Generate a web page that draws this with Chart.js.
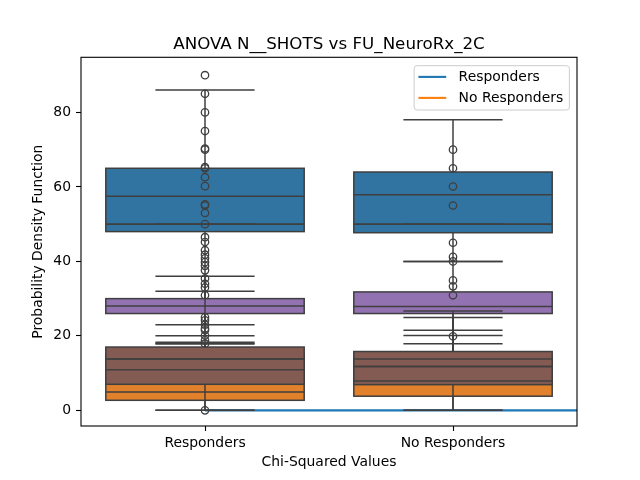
<!DOCTYPE html>
<html>
<head>
<meta charset="utf-8">
<script src="https://cdn.jsdelivr.net/npm/chart.js@4.4.1/dist/chart.umd.min.js"></script>
<style>
  html, body { margin: 0; padding: 0; background: #ffffff; }
  #wrap { width: 640px; height: 480px; }
</style>
</head>
<body>
<div id="wrap"><canvas id="c" width="640" height="480"></canvas></div>
<script>
// ---------- data ----------
const chartTitle = 'ANOVA N__SHOTS vs FU_NeuroRx_2C';
const categories = ['Responders', 'No Responders'];
const xTickValues = [0, 1];
const yTickValues = [0, 20, 40, 60, 80];

// legend line series (density lines, all ~0)
const lineX = [0, 1, 2];
const respondersLine = [0, 0, 0];
const noRespondersLine = [0, 0, 0];

// box series in drawing order; each entry is [Responders, No Responders]
const whiskerLow   = [[23, 40],   [0, 0],     [7, 7],      [50, 50], [8, 8],      [20, 17.9], [0, 0]];
const quartile1    = [[48, 47.7], [2.7, 3.8], [8, 9],      [50, 50], [8, 8],      [26, 26],   [7, 6.9]];
const medianValues = [[57.5, 57.9], [4.9, 7.9], [13.8, 11.8], [50, 50], [13.8, 11.8], [28, 27.9], [10.9, 13.8]];
const quartile3    = [[65, 64],   [12, 13],   [15, 14],    [50, 50], [15, 14],    [30, 31.8], [17, 15.8]];
const whiskerHigh  = [[86, 78],   [17.9, 21.5], [18.3, 24.9], [50, 50], [17.9, 20.1], [36, 40], [32, 26.7]];
const outlierValues = [
  [[90, 22, 21.5, 20.1, 18.8, 17.9], [19.9]],
  [[25, 24.2, 23, 30.9], []],
  [[0], []],
  [[], []],
  [[], []],
  [[], []],
  [[33, 34, 35.4, 37.6, 38.8, 39.8, 40.8, 41.8, 43, 45.2, 46.5, 50, 53, 55, 55.3, 60.2, 62.6, 65, 65.3, 70, 70.3, 75, 80, 85],
   [30.9, 33.3, 34.9, 40, 41.2, 45, 55, 60.1, 65, 70]]
];

// ---------- styles ----------
const boxFill = ['#3274a1', '#e1812c', '#3a923a', '#c03d3e', '#d684bd', '#9372b2', '#845b53'];
const edgeColor = '#3f3f3f';
const FONT = "'DejaVu Sans', 'Liberation Sans', sans-serif";
Chart.defaults.font.family = FONT;
Chart.defaults.font.size = 13.9;
Chart.defaults.color = '#000000';

const boxPlugin = {
  id: 'boxes',
  afterDatasetsDraw(chart) {
    const { ctx, chartArea: a, scales: { x, y } } = chart;
    const halfBox = x.getPixelForValue(0.4) - x.getPixelForValue(0);
    const halfCap = halfBox / 2;
    ctx.save();
    ctx.beginPath();
    ctx.rect(a.left, a.top, a.right - a.left, a.bottom - a.top);
    ctx.clip();
    ctx.lineWidth = 1.5;
    ctx.strokeStyle = edgeColor;
    for (let s = 0; s < quartile1.length; s++) {
      for (let c = 0; c < categories.length; c++) {
        const cx = x.getPixelForValue(xTickValues[c]);
        const yq1 = y.getPixelForValue(quartile1[s][c]);
        const yq3 = y.getPixelForValue(quartile3[s][c]);
        const ylo = y.getPixelForValue(whiskerLow[s][c]);
        const yhi = y.getPixelForValue(whiskerHigh[s][c]);
        ctx.fillStyle = boxFill[s];
        ctx.fillRect(cx - halfBox, yq3, 2 * halfBox, yq1 - yq3);
        ctx.strokeRect(cx - halfBox, yq3, 2 * halfBox, yq1 - yq3);
        ctx.beginPath();
        ctx.moveTo(cx, yq1); ctx.lineTo(cx, ylo);
        ctx.moveTo(cx, yq3); ctx.lineTo(cx, yhi);
        ctx.stroke();
        ctx.beginPath();
        ctx.moveTo(cx - halfCap, ylo); ctx.lineTo(cx + halfCap, ylo);
        ctx.moveTo(cx - halfCap, yhi); ctx.lineTo(cx + halfCap, yhi);
        ctx.stroke();
        ctx.lineWidth = 1.3;
        for (const v of outlierValues[s][c]) {
          ctx.beginPath();
          ctx.arc(cx, y.getPixelForValue(v), 3.7, 0, Math.PI * 2);
          ctx.stroke();
        }
        ctx.lineWidth = 1.5;
      }
    }
    for (let s = 0; s < medianValues.length; s++) {
      for (let c = 0; c < categories.length; c++) {
        const cx = x.getPixelForValue(xTickValues[c]);
        const ym = y.getPixelForValue(medianValues[s][c]);
        ctx.beginPath();
        ctx.moveTo(cx - halfBox, ym); ctx.lineTo(cx + halfBox, ym);
        ctx.stroke();
      }
    }
    ctx.restore();

    // axes frame (spines)
    ctx.save();
    ctx.strokeStyle = '#000000';
    ctx.lineWidth = 1.1;
    ctx.strokeRect(a.left, a.top, a.right - a.left, a.bottom - a.top);
    ctx.restore();

    // title centred over the axes
    ctx.save();
    ctx.font = '16.7px ' + FONT;
    ctx.fillStyle = '#000000';
    ctx.textAlign = 'center';
    ctx.textBaseline = 'alphabetic';
    ctx.fillText(chartTitle, (a.left + a.right) / 2, a.top - 8.6);
    ctx.restore();

    // legend (upper right, inside axes)
    ctx.save();
    const fs = 13.9;
    ctx.font = fs + 'px ' + FONT;
    const ds = chart.data.datasets;
    let maxW = 0;
    ds.forEach(d => { maxW = Math.max(maxW, ctx.measureText(d.label).width); });
    const boxW = 3.2 * fs + maxW + 0.45 * fs;
    const rowH = 21;
    const boxH = 44.3;
    const bx = a.right - 7.6 - boxW;
    const by = a.top + 8.4;
    ctx.beginPath();
    if (ctx.roundRect) ctx.roundRect(bx, by, boxW, boxH, 3); else ctx.rect(bx, by, boxW, boxH);
    ctx.fillStyle = 'rgba(255,255,255,0.8)';
    ctx.fill();
    ctx.strokeStyle = '#cccccc';
    ctx.lineWidth = 1;
    ctx.stroke();
    ds.forEach((d, i) => {
      const cy = by + 11.2 + rowH * i;
      ctx.beginPath();
      ctx.strokeStyle = d.borderColor;
      ctx.lineWidth = 2.1;
      ctx.moveTo(bx + 4.3, cy);
      ctx.lineTo(bx + 4.3 + 2 * fs, cy);
      ctx.stroke();
      ctx.fillStyle = '#000000';
      ctx.textAlign = 'left';
      ctx.textBaseline = 'middle';
      ctx.fillText(d.label, bx + 3.2 * fs, cy);
    });
    ctx.restore();
  }
};

new Chart(document.getElementById('c'), {
  type: 'line',
  data: {
    datasets: [
      {
        label: 'Responders',
        data: lineX.map((v, i) => ({ x: v, y: respondersLine[i] })),
        borderColor: '#1f77b4',
        borderWidth: 2.1,
        pointRadius: 0,
        fill: false
      },
      {
        label: 'No Responders',
        data: lineX.map((v, i) => ({ x: v, y: noRespondersLine[i] })),
        borderColor: '#ff7f0e',
        borderWidth: 2.1,
        pointRadius: 0,
        fill: false,
        hidden: true   // fully covered by the Responders line in the reference
      }
    ]
  },
  options: {
    responsive: false,
    animation: false,
    events: [],
    layout: { padding: { left: 0, right: 63, top: 57.3, bottom: 0 } },
    plugins: {
      legend: { display: false },
      tooltip: { enabled: false },
      title: { display: false }
    },
    scales: {
      x: {
        type: 'linear',
        min: -0.5,
        max: 1.5,
        afterBuildTicks: s => { s.ticks = xTickValues.map(v => ({ value: v })); },
        afterFit: s => { s.height = 54; },
        ticks: {
          padding: 4.5,
          autoSkip: false,
          maxRotation: 0,
          color: '#000000',
          callback: v => categories[xTickValues.indexOf(v)]
        },
        grid: { drawOnChartArea: false, drawTicks: true, tickLength: 5, tickWidth: 1.1, tickColor: '#000000' },
        border: { display: false },
        title: {
          display: true,
          text: 'Chi-Squared Values',
          color: '#000000',
          font: { size: 13.9, lineHeight: 1.2 },
          padding: { top: 0, bottom: 9.2 }
        }
      },
      y: {
        type: 'linear',
        min: -4.2,
        max: 94.8,
        afterBuildTicks: s => { s.ticks = yTickValues.map(v => ({ value: v })); },
        afterFit: s => { s.width = 81; },
        ticks: { padding: 5, color: '#000000' },
        grid: { drawOnChartArea: false, drawTicks: true, tickLength: 5, tickWidth: 1.1, tickColor: '#000000' },
        border: { display: false },
        title: {
          display: true,
          text: 'Probability Density Function',
          color: '#000000',
          font: { size: 13.9, lineHeight: 1.2 },
          padding: { top: 30.4, bottom: 0 }
        }
      }
    }
  },
  plugins: [boxPlugin]
});
</script>
</body>
</html>
